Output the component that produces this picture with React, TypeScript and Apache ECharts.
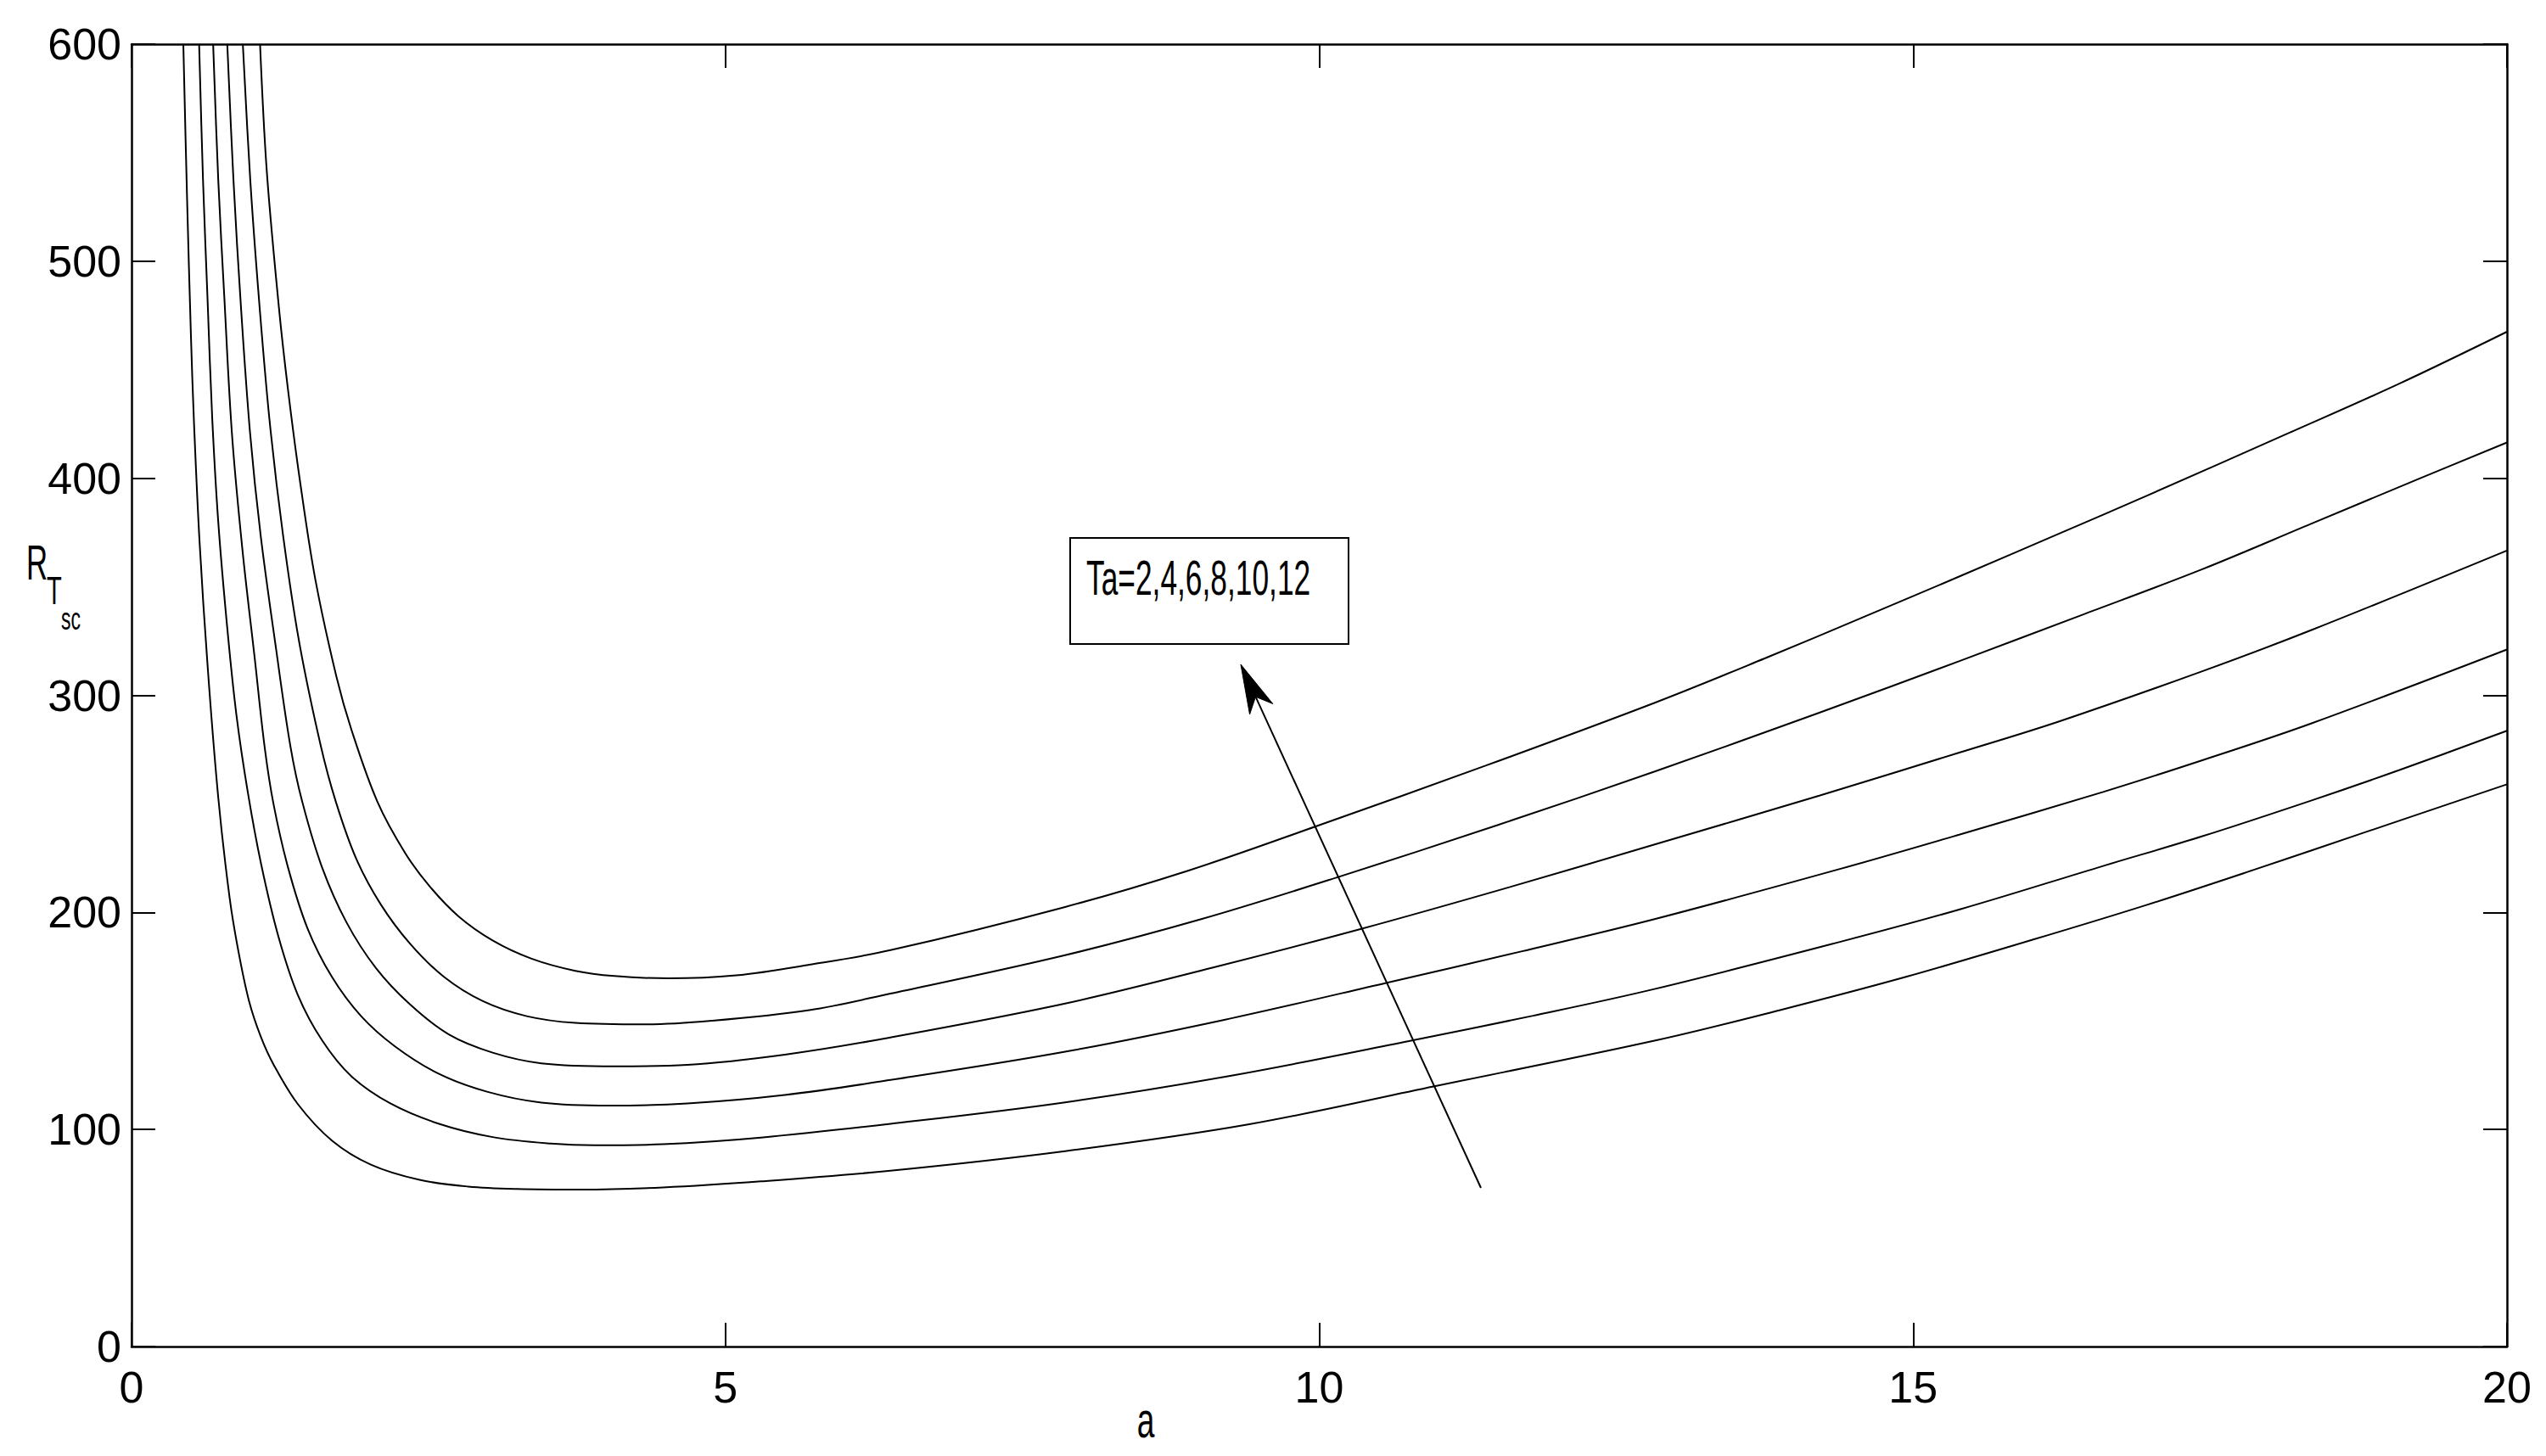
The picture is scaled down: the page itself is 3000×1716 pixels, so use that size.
import React, { useEffect, useRef } from 'react';
import * as echarts from 'echarts';

const FONT = "'Liberation Sans Narrow', 'Liberation Sans', Arial, sans-serif";

// Wavenumber a and critical Rayleigh number R_Tsc for each Ta curve
const A_TA2 = [0.436, 0.467, 0.5, 0.526, 0.572, 0.641, 0.73, 0.826, 0.9, 0.99, 1.09, 1.195, 1.4, 1.687, 2.015, 2.425, 2.835, 3.245, 3.78, 4.475, 5.3, 6.39, 7.86, 9.4, 10.97, 12.83, 13.88, 14.94, 16, 16.97, 17.89, 18.81, 20];
const R_TA2 = [600, 530, 465.7, 425.3, 371.4, 313.1, 253, 206.6, 182, 159, 142.5, 130, 111.7, 94.9, 83.8, 76.8, 73.7, 72.6, 72.3, 73.3, 76.1, 81, 90, 102.3, 119.9, 141, 155, 170.3, 187.3, 203.5, 220, 237, 259];

const A_TA4 = [0.569, 0.602, 0.641, 0.679, 0.73, 0.806, 0.883, 0.98, 1.092, 1.236, 1.4, 1.605, 1.851, 2.179, 2.589, 3.04, 3.53, 3.9, 4.475, 5.3, 6.39, 7.86, 9.3, 10.79, 11.8, 12.83, 14.39, 15.4, 16.6, 17.43, 18.35, 19.09, 20];
const R_TA4 = [600, 537, 481, 428, 380, 331, 291, 255, 222, 189, 162, 141, 124.5, 112, 102.6, 96.5, 93.5, 92.7, 93.2, 96.3, 102.6, 112.5, 125.2, 141.1, 152.4, 164.8, 186.5, 201.5, 221.4, 235, 251.5, 265.5, 283.7];

const A_TA6 = [0.687, 0.73, 0.781, 0.845, 0.934, 1.036, 1.121, 1.195, 1.318, 1.482, 1.687, 1.933, 2.22, 2.589, 2.999, 3.45, 4.024, 4.68, 5.5, 6.39, 7.86, 9.2, 10.57, 11.7, 12.83, 14.39, 15.4, 16.6, 17.43, 18.35, 20];
const R_TA6 = [600, 537.5, 483.6, 420.8, 366.9, 317.6, 276, 250, 220.6, 192.6, 170.3, 152.2, 138.2, 125.6, 117.3, 112.4, 111, 112, 115.9, 122.8, 135.8, 150.5, 167.6, 182, 197, 220.1, 236, 255.5, 270, 287, 321.1];

const A_TA8 = [0.806, 0.858, 0.921, 0.998, 1.087, 1.215, 1.338, 1.437, 1.605, 1.81, 2.056, 2.343, 2.671, 3.04, 3.45, 4.065, 4.68, 5.5, 6.39, 7.86, 9.1, 10.36, 11.6, 12.83, 14.21, 15.4, 16.23, 17.43, 18.35, 20];
const R_TA8 = [600, 537.5, 479.1, 420.8, 373.7, 322.1, 276.4, 251, 220.6, 195.4, 174.5, 157.7, 143.8, 135.4, 130.5, 129.1, 129.8, 134.5, 142.4, 158, 174.5, 192.5, 211.6, 231.4, 253.8, 273.8, 288, 311, 330, 366.7];

const A_TA10 = [0.937, 1.0, 1.078, 1.165, 1.275, 1.41, 1.592, 1.72, 1.892, 2.097, 2.343, 2.63, 2.958, 3.327, 3.737, 4.311, 4.885, 5.706, 6.39, 7.86, 9.0, 10.16, 11.5, 12.83, 14.21, 15.4, 16.42, 17.43, 18.35, 19.27, 20];
const R_TA10 = [600, 537, 479, 425, 374, 325, 277, 251, 224.7, 203.8, 185.7, 170.3, 159.1, 152.2, 149.1, 148.4, 150.1, 155, 162.6, 180.3, 196.8, 216.3, 240.2, 265, 292, 316, 337, 358, 379, 400, 416.5];

const A_TA12 = [1.082, 1.138, 1.24, 1.317, 1.419, 1.547, 1.725, 1.853, 2.07, 2.302, 2.507, 2.753, 3.04, 3.368, 3.737, 4.065, 4.516, 5.09, 5.706, 6.39, 7.86, 8.9, 9.97, 11.4, 12.83, 13.75, 14.58, 15.4, 16.23, 16.97, 18.17, 19.09, 20];
const R_TA12 = [600, 542, 479.1, 441, 398.4, 353.5, 308.6, 283.9, 251, 227.5, 212.2, 198.2, 187.1, 178.7, 173.1, 170.7, 169.6, 171, 175.9, 182.6, 202.5, 219.3, 239.6, 267.6, 296.7, 317, 336, 355, 374.5, 392, 421, 443.5, 467.5];

const SERIES_NAMES = ['Ta=2', 'Ta=4', 'Ta=6', 'Ta=8', 'Ta=10', 'Ta=12'];
const SERIES_A = [A_TA2, A_TA4, A_TA6, A_TA8, A_TA10, A_TA12];
const SERIES_R = [R_TA2, R_TA4, R_TA6, R_TA8, R_TA10, R_TA12];

const X_MIN = 0;
const X_MAX = 20;
const X_STEP = 5;
const Y_MIN = 0;
const Y_MAX = 600;
const Y_STEP = 100;

const LEGEND_TEXT = 'Ta=2,4,6,8,10,12';

function buildAxis(kind: 'x' | 'y', position: string, showLabel: boolean) {
  const isX = kind === 'x';
  return {
    type: 'value',
    position,
    min: isX ? X_MIN : Y_MIN,
    max: isX ? X_MAX : Y_MAX,
    interval: isX ? X_STEP : Y_STEP,
    axisLine: { show: true, onZero: false, lineStyle: { color: '#000', width: 2.5 } },
    axisTick: { show: true, inside: true, length: 28, lineStyle: { color: '#000', width: 2 } },
    splitLine: { show: false },
    axisLabel: {
      show: showLabel,
      color: '#000',
      fontFamily: FONT,
      fontSize: 52,
      margin: isX ? 22 : 12,
    },
  };
}

export default function App() {
  const ref = useRef<HTMLDivElement>(null);

  useEffect(() => {
    const el = ref.current;
    if (!el) return;
    const chart = echarts.init(el, null, { renderer: 'svg', width: 3000, height: 1716 });

    // arrow annotation (pixel coordinates)
    const tail = [1745, 1400];
    const tip = [1462, 783];
    const dx = tip[0] - tail[0];
    const dy = tip[1] - tail[1];
    const len = Math.hypot(dx, dy);
    const ux = dx / len;
    const uy = dy / len;
    const nx = -uy;
    const ny = ux;
    const headBack = 58;
    const headHalf = 15;
    const notch = 42;
    const b1 = [tip[0] - ux * headBack + nx * headHalf, tip[1] - uy * headBack + ny * headHalf];
    const b2 = [tip[0] - ux * headBack - nx * headHalf, tip[1] - uy * headBack - ny * headHalf];
    const nt = [tip[0] - ux * notch, tip[1] - uy * notch];

    const option: any = {
      animation: false,
      backgroundColor: '#fff',
      grid: { left: 155, right: 46, top: 52, bottom: 129, containLabel: false },
      xAxis: [buildAxis('x', 'bottom', true), buildAxis('x', 'top', false)],
      yAxis: [buildAxis('y', 'left', true), buildAxis('y', 'right', false)],
      series: SERIES_NAMES.map((name, i) => ({
        name,
        type: 'line',
        xAxisIndex: 0,
        yAxisIndex: 0,
        showSymbol: false,
        symbol: 'none',
        smooth: 0.35,
        silent: true,
        lineStyle: { color: '#000', width: 2 },
        data: SERIES_A[i].map((a, j) => [a, SERIES_R[i][j]]),
      })),
      graphic: [
        // y-axis title R_{T_{sc}}
        { type: 'text', x: 31, y: 663, style: { text: 'R', font: `58px ${FONT}`, fill: '#000', align: 'left', verticalAlign: 'middle' }, scaleX: 0.6 },
        { type: 'text', x: 55, y: 696, style: { text: 'T', font: `47px ${FONT}`, fill: '#000', align: 'left', verticalAlign: 'middle' }, scaleX: 0.62 },
        { type: 'text', x: 72, y: 729, style: { text: 'sc', font: `37px ${FONT}`, fill: '#000', align: 'left', verticalAlign: 'middle' }, scaleX: 0.62 },
        // x-axis title
        { type: 'text', x: 1350, y: 1674, style: { text: 'a', font: `60px ${FONT}`, fill: '#000', align: 'center', verticalAlign: 'middle' }, scaleX: 0.62 },
        // legend box
        { type: 'rect', shape: { x: 1261, y: 634, width: 328, height: 125 }, style: { fill: 'none', stroke: '#000', lineWidth: 2 }, z: 10 },
        { type: 'text', x: 1280, y: 681, style: { text: LEGEND_TEXT, font: `57px ${FONT}`, fill: '#000', align: 'left', verticalAlign: 'middle' }, scaleX: 0.62, z: 10 },
        // arrow
        { type: 'line', shape: { x1: tail[0], y1: tail[1], x2: nt[0], y2: nt[1] }, style: { stroke: '#000', lineWidth: 2 }, z: 10 },
        { type: 'polygon', shape: { points: [tip, b1, nt, b2] }, style: { fill: '#000', stroke: '#000', lineWidth: 1 }, z: 10 },
      ],
    };

    chart.setOption(option);
    return () => {
      chart.dispose();
    };
  }, []);

  return (
    <div
      ref={ref}
      style={{ position: 'fixed', left: 0, top: 0, width: 3000, height: 1716, background: '#fff' }}
    />
  );
}
